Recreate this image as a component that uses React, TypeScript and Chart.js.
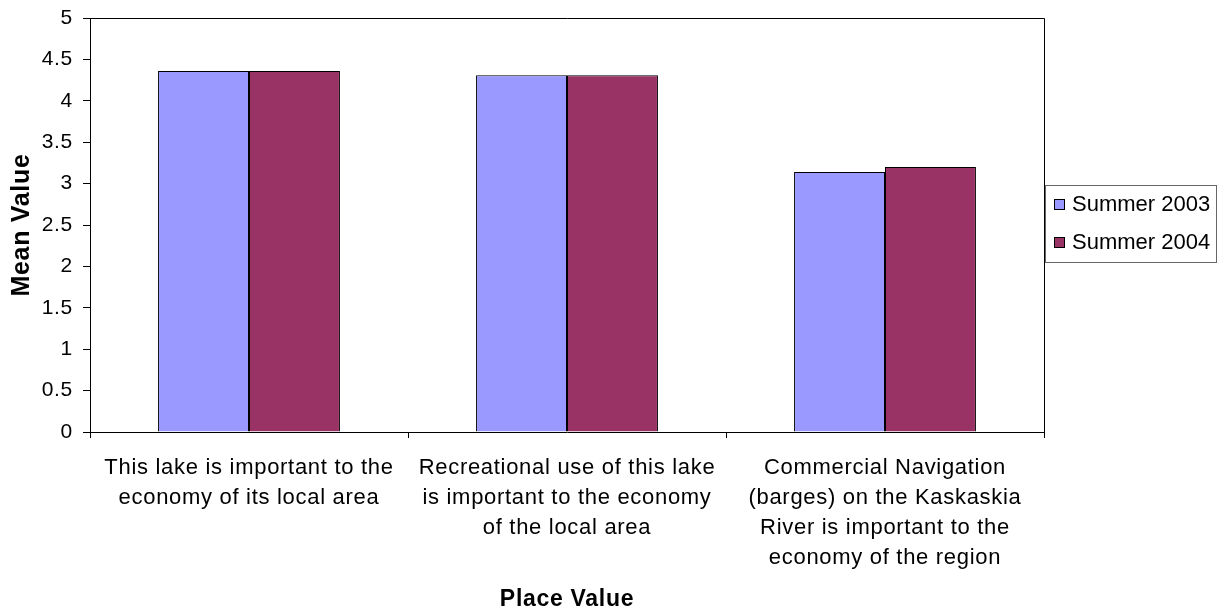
import React, { useEffect, useRef } from "react";
import { Chart, registerables } from "chart.js";

Chart.register(...registerables);

const categories: string[][] = [
  ["This lake is important to the", "economy of its local area"],
  ["Recreational use of this lake", "is important to the economy", "of the local area"],
  ["Commercial Navigation", "(barges) on the Kaskaskia", "River is important to the", "economy of the region"],
];
const seriesNames = ["Summer 2003", "Summer 2004"];
const summer2003 = [4.36, 4.31, 3.14];
const summer2004 = [4.36, 4.31, 3.2];
const colors = ["#9999FF", "#993366"];
const yTicks = [0, 0.5, 1, 1.5, 2, 2.5, 3, 3.5, 4, 4.5, 5];

const FONT = "'Liberation Sans', Arial, sans-serif";

const framePlugin = {
  id: "frameAndLegend",
  beforeDraw(chart: any) {
    (chart.ctx as any).letterSpacing = "0.7px";
  },
  afterDraw(chart: any) {
    const { ctx, chartArea } = chart;
    (ctx as any).letterSpacing = "0px";
    ctx.save();
    ctx.strokeStyle = "#000";
    ctx.lineWidth = 1;
    ctx.beginPath();
    ctx.moveTo(chartArea.left, chartArea.top + 0.5);
    ctx.lineTo(chartArea.right + 0.5, chartArea.top + 0.5);
    ctx.lineTo(chartArea.right + 0.5, chartArea.bottom);
    ctx.stroke();

    // legend
    ctx.strokeStyle = "#666";
    ctx.strokeRect(1045.5, 185.5, 171, 77);
    ctx.font = `22px ${FONT}`;
    ctx.textBaseline = "middle";
    ctx.textAlign = "left";
    seriesNames.forEach((name, i) => {
      const y = 199 + i * 38;
      ctx.fillStyle = colors[i];
      ctx.fillRect(1054, y, 11, 11);
      ctx.strokeStyle = "#000";
      ctx.strokeRect(1054.5, y + 0.5, 10, 10);
      ctx.fillStyle = "#000";
      ctx.fillText(name, 1072, y + 6);
    });
    ctx.restore();
  },
};

export default function App() {
  const canvasRef = useRef<HTMLCanvasElement | null>(null);

  useEffect(() => {
    document.body.style.margin = "0";
    const canvas = canvasRef.current;
    if (!canvas) return;
    Chart.defaults.font.family = FONT;
    Chart.defaults.color = "#000";
    const chart = new Chart(canvas, {
      type: "bar",
      data: {
        labels: categories as any,
        datasets: [
          {
            label: seriesNames[0],
            data: summer2003,
            backgroundColor: colors[0],
            borderColor: "#000",
            borderWidth: 1,
            categoryPercentage: 0.572,
            barPercentage: 1,
          },
          {
            label: seriesNames[1],
            data: summer2004,
            backgroundColor: colors[1],
            borderColor: "#000",
            borderWidth: 1,
            categoryPercentage: 0.572,
            barPercentage: 1,
          },
        ],
      },
      options: {
        animation: false,
        responsive: true,
        maintainAspectRatio: false,
        layout: { padding: { top: 18, right: 177, left: 0, bottom: 0 } },
        plugins: {
          legend: { display: false },
          tooltip: { enabled: false },
        },
        scales: {
          x: {
            grid: {
              drawOnChartArea: false,
              drawTicks: true,
              tickLength: 6,
              color: "#000",
              offset: true,
            },
            border: { display: true, color: "#000", width: 1 },
            ticks: {
              font: { size: 22, lineHeight: 1.36 },
              padding: 15,
              maxRotation: 0,
              autoSkip: false,
              color: "#000",
            },
            title: {
              display: true,
              text: "Place Value",
              font: { size: 23, weight: "bold", lineHeight: 1 },
              padding: { top: 0, bottom: 0 },
              color: "#000",
            },
            afterFit: (scale: any) => {
              scale.height = 611 - 432;
              scale.paddingLeft = 0;
              scale.paddingRight = 0;
            },
          },
          y: {
            min: 0,
            max: 5,
            afterBuildTicks: (scale: any) => {
              scale.ticks = yTicks.map((v) => ({ value: v }));
            },
            grid: {
              drawOnChartArea: false,
              drawTicks: true,
              tickLength: 7,
              color: "#000",
            },
            border: { display: true, color: "#000", width: 1 },
            ticks: {
              font: { size: 21 },
              padding: 10,
              color: "#000",
              callback: (v: any) => String(v),
            },
            title: {
              display: true,
              text: "Mean Value",
              font: { size: 25, weight: "bold", lineHeight: 1.2 },
              padding: { top: 7, bottom: 0 },
              color: "#000",
            },
            afterFit: (scale: any) => {
              scale.width = 90;
              scale.paddingTop = 0;
              scale.paddingBottom = 0;
            },
          },
        },
      },
      plugins: [framePlugin],
    });
    return () => chart.destroy();
  }, []);

  return (
    <div style={{ position: "fixed", left: 0, top: 0, width: 1221, height: 611, background: "#fff" }}>
      <canvas ref={canvasRef} />
    </div>
  );
}
